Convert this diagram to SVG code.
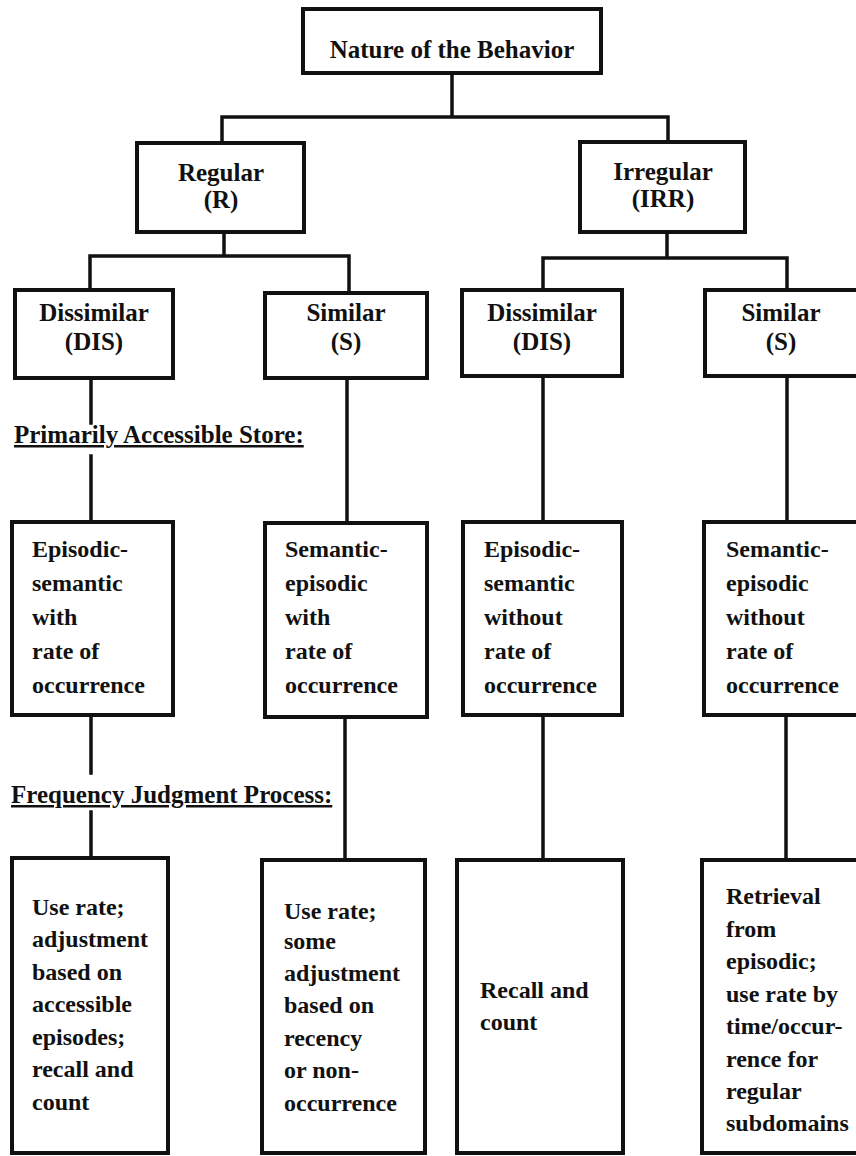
<svg xmlns="http://www.w3.org/2000/svg" width="856" height="1156" viewBox="0 0 856 1156">
<style>
  .box { fill: #ffffff; stroke: #111111; stroke-width: 4; }
  .conn { stroke: #111111; stroke-width: 3.5; fill: none; stroke-linecap: square; }
  text { font-family: "Liberation Serif", "Times New Roman", serif; font-weight: bold; fill: #111111; }
  .h { font-size: 25px; text-anchor: middle; }
  .b { font-size: 24px; }
  .lbl { font-size: 25px; text-decoration: underline; }
</style>
<rect width="856" height="1156" fill="#ffffff"/>
<g id="connectors">
  <path class="conn" d="M452 73 V117 M222 117 H668 M222 117 V143 M668 117 V142"/>
  <path class="conn" d="M224 232 V256 M90 256 H349 M90 256 V290 M349 256 V293"/>
  <path class="conn" d="M667 232 V258 M543 258 H787 M543 258 V290 M787 258 V290"/>
  <path class="conn" d="M91 378 V423 M91 456 V522 M347 378 V523 M543 376 V522 M787 376 V522"/>
  <path class="conn" d="M91 715 V773 M91 812 V858 M345 717 V860 M543 715 V860 M786 715 V860"/>
</g>
<g id="labels">
  <text class="lbl" x="14" y="443">Primarily Accessible Store:</text>
  <text class="lbl" x="11" y="803">Frequency Judgment Process:</text>
</g>
<g id="node-nature">
  <rect class="box" x="303" y="9" width="298" height="64"/>
  <text class="h" x="452" y="58">Nature of the Behavior</text>
</g>
<g id="node-regular">
  <rect class="box" x="137" y="143" width="167" height="89"/>
  <text class="h" x="221" y="181">Regular</text>
  <text class="h" x="221" y="208">(R)</text>
</g>
<g id="node-irregular">
  <rect class="box" x="580" y="142" width="165" height="90"/>
  <text class="h" x="663" y="180">Irregular</text>
  <text class="h" x="663" y="207">(IRR)</text>
</g>
<g id="node-r-dis">
  <rect class="box" x="15" y="290" width="158" height="88"/>
  <text class="h" x="94" y="321">Dissimilar</text>
  <text class="h" x="94" y="350">(DIS)</text>
</g>
<g id="node-r-sim">
  <rect class="box" x="265" y="293" width="162" height="85"/>
  <text class="h" x="346" y="321">Similar</text>
  <text class="h" x="346" y="350">(S)</text>
</g>
<g id="node-irr-dis">
  <rect class="box" x="462" y="290" width="160" height="86"/>
  <text class="h" x="542" y="321">Dissimilar</text>
  <text class="h" x="542" y="350">(DIS)</text>
</g>
<g id="node-irr-sim">
  <rect class="box" x="705" y="290" width="155" height="86"/>
  <text class="h" x="781" y="321">Similar</text>
  <text class="h" x="781" y="350">(S)</text>
</g>
<g id="store-r-dis">
  <rect class="box" x="12" y="522" width="161" height="193"/>
  <text class="b" x="32" y="557">Episodic-</text>
  <text class="b" x="32" y="591">semantic</text>
  <text class="b" x="32" y="625">with</text>
  <text class="b" x="32" y="659">rate of</text>
  <text class="b" x="32" y="693">occurrence</text>
</g>
<g id="store-r-sim">
  <rect class="box" x="265" y="523" width="162" height="194"/>
  <text class="b" x="285" y="557">Semantic-</text>
  <text class="b" x="285" y="591">episodic</text>
  <text class="b" x="285" y="625">with</text>
  <text class="b" x="285" y="659">rate of</text>
  <text class="b" x="285" y="693">occurrence</text>
</g>
<g id="store-irr-dis">
  <rect class="box" x="463" y="522" width="159" height="193"/>
  <text class="b" x="484" y="557">Episodic-</text>
  <text class="b" x="484" y="591">semantic</text>
  <text class="b" x="484" y="625">without</text>
  <text class="b" x="484" y="659">rate of</text>
  <text class="b" x="484" y="693">occurrence</text>
</g>
<g id="store-irr-sim">
  <rect class="box" x="704" y="522" width="156" height="193"/>
  <text class="b" x="726" y="557">Semantic-</text>
  <text class="b" x="726" y="591">episodic</text>
  <text class="b" x="726" y="625">without</text>
  <text class="b" x="726" y="659">rate of</text>
  <text class="b" x="726" y="693">occurrence</text>
</g>
<g id="process-r-dis">
  <rect class="box" x="12" y="858" width="156" height="295"/>
  <text class="b" x="32" y="915">Use rate;</text>
  <text class="b" x="32" y="947">adjustment</text>
  <text class="b" x="32" y="980">based on</text>
  <text class="b" x="32" y="1012">accessible</text>
  <text class="b" x="32" y="1045">episodes;</text>
  <text class="b" x="32" y="1077">recall and</text>
  <text class="b" x="32" y="1110">count</text>
</g>
<g id="process-r-sim">
  <rect class="box" x="262" y="860" width="163" height="293"/>
  <text class="b" x="284" y="919">Use rate;</text>
  <text class="b" x="284" y="949">some</text>
  <text class="b" x="284" y="981">adjustment</text>
  <text class="b" x="284" y="1013">based on</text>
  <text class="b" x="284" y="1046">recency</text>
  <text class="b" x="284" y="1078">or non-</text>
  <text class="b" x="284" y="1111">occurrence</text>
</g>
<g id="process-irr-dis">
  <rect class="box" x="457" y="860" width="166" height="293"/>
  <text class="b" x="480" y="998">Recall and</text>
  <text class="b" x="480" y="1030">count</text>
</g>
<g id="process-irr-sim">
  <rect class="box" x="702" y="860" width="158" height="293"/>
  <text class="b" x="726" y="904">Retrieval</text>
  <text class="b" x="726" y="937">from</text>
  <text class="b" x="726" y="969">episodic;</text>
  <text class="b" x="726" y="1002">use rate by</text>
  <text class="b" x="726" y="1034">time/occur-</text>
  <text class="b" x="726" y="1067">rence for</text>
  <text class="b" x="726" y="1099">regular</text>
  <text class="b" x="726" y="1131">subdomains</text>
</g>
</svg>
